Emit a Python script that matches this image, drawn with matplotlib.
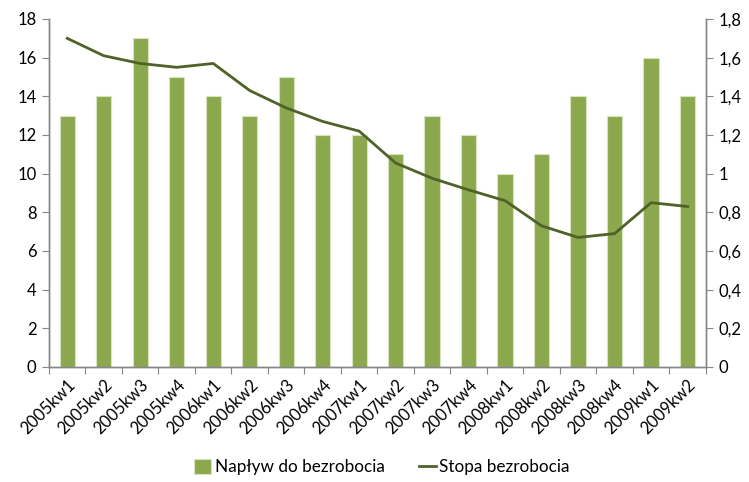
import matplotlib
matplotlib.use("Agg")
import matplotlib.pyplot as plt
import numpy as np
from matplotlib.ticker import FuncFormatter

plt.rcParams['font.family'] = ['Lato', 'DejaVu Sans']

quarters = ["2005kw1", "2005kw2", "2005kw3", "2005kw4",
            "2006kw1", "2006kw2", "2006kw3", "2006kw4",
            "2007kw1", "2007kw2", "2007kw3", "2007kw4",
            "2008kw1", "2008kw2", "2008kw3", "2008kw4",
            "2009kw1", "2009kw2"]
naplyw = [13, 14, 17, 15, 14, 13, 15, 12, 12, 11, 13, 12, 10, 11, 14, 13, 16, 14]
stopa = [1.70, 1.61, 1.57, 1.55, 1.57, 1.43, 1.34, 1.27, 1.22, 1.055,
         0.976, 0.916, 0.86, 0.73, 0.67, 0.69, 0.85, 0.83]

bar_color = "#8BA84E"
line_color = "#4F6228"
axis_color = "#868686"

fig = plt.figure(figsize=(7.49, 4.82), dpi=100)
ax = fig.add_axes([0.0654, 0.2386, 0.877, 0.722])
ax2 = ax.twinx()

x = np.arange(len(quarters))
bars = ax.bar(x, naplyw, width=0.42, color=bar_color, edgecolor="#D7E4BD",
              linewidth=0.8, label="Napływ do bezrobocia", zorder=2)
line, = ax2.plot(x, stopa, color=line_color, linewidth=2.0,
                 label="Stopa bezrobocia", zorder=3)

ax.set_xlim(-0.5, len(quarters) - 0.5)
ax.set_ylim(0, 18)
ax2.set_ylim(0, 1.8)
ax.set_yticks(np.arange(0, 19, 2))
ax2.set_yticks(np.arange(0, 1.81, 0.2))

def comma_fmt(v, pos):
    s = f"{v:.1f}".rstrip("0").rstrip(".")
    return s.replace(".", ",")

ax2.yaxis.set_major_formatter(FuncFormatter(comma_fmt))

# category ticks sit on the boundaries between quarters
ax.set_xticks(np.arange(-0.5, len(quarters), 1.0))
ax.set_xticklabels([])
ax.set_xticks(x, minor=True)
ax.set_xticklabels(quarters, minor=True, rotation=45, ha="right",
                   rotation_mode="anchor", fontsize=12, color="#000000")
ax.tick_params(axis="x", which="minor", length=0, pad=7)
ax.tick_params(axis="x", which="major", length=5, color=axis_color, direction="out")

ax.tick_params(axis="y", length=5, color=axis_color, labelsize=12, pad=4)
ax2.tick_params(axis="y", length=5, color=axis_color, labelsize=12, pad=4)

for a in (ax, ax2):
    a.spines["top"].set_visible(False)
    for side in ("left", "right", "bottom"):
        a.spines[side].set_color(axis_color)
        a.spines[side].set_linewidth(1.0)

ax.set_zorder(ax2.get_zorder() - 1)
ax2.patch.set_visible(False)

fig.legend([bars, line], ["Napływ do bezrobocia", "Stopa bezrobocia"],
           loc="center", bbox_to_anchor=(0.51, 0.031), ncol=2, frameon=False,
           fontsize=12.3, handlelength=1.0, handleheight=1.0, handletextpad=0.2,
           columnspacing=2.0)

fig.savefig("out.png", dpi=100)
